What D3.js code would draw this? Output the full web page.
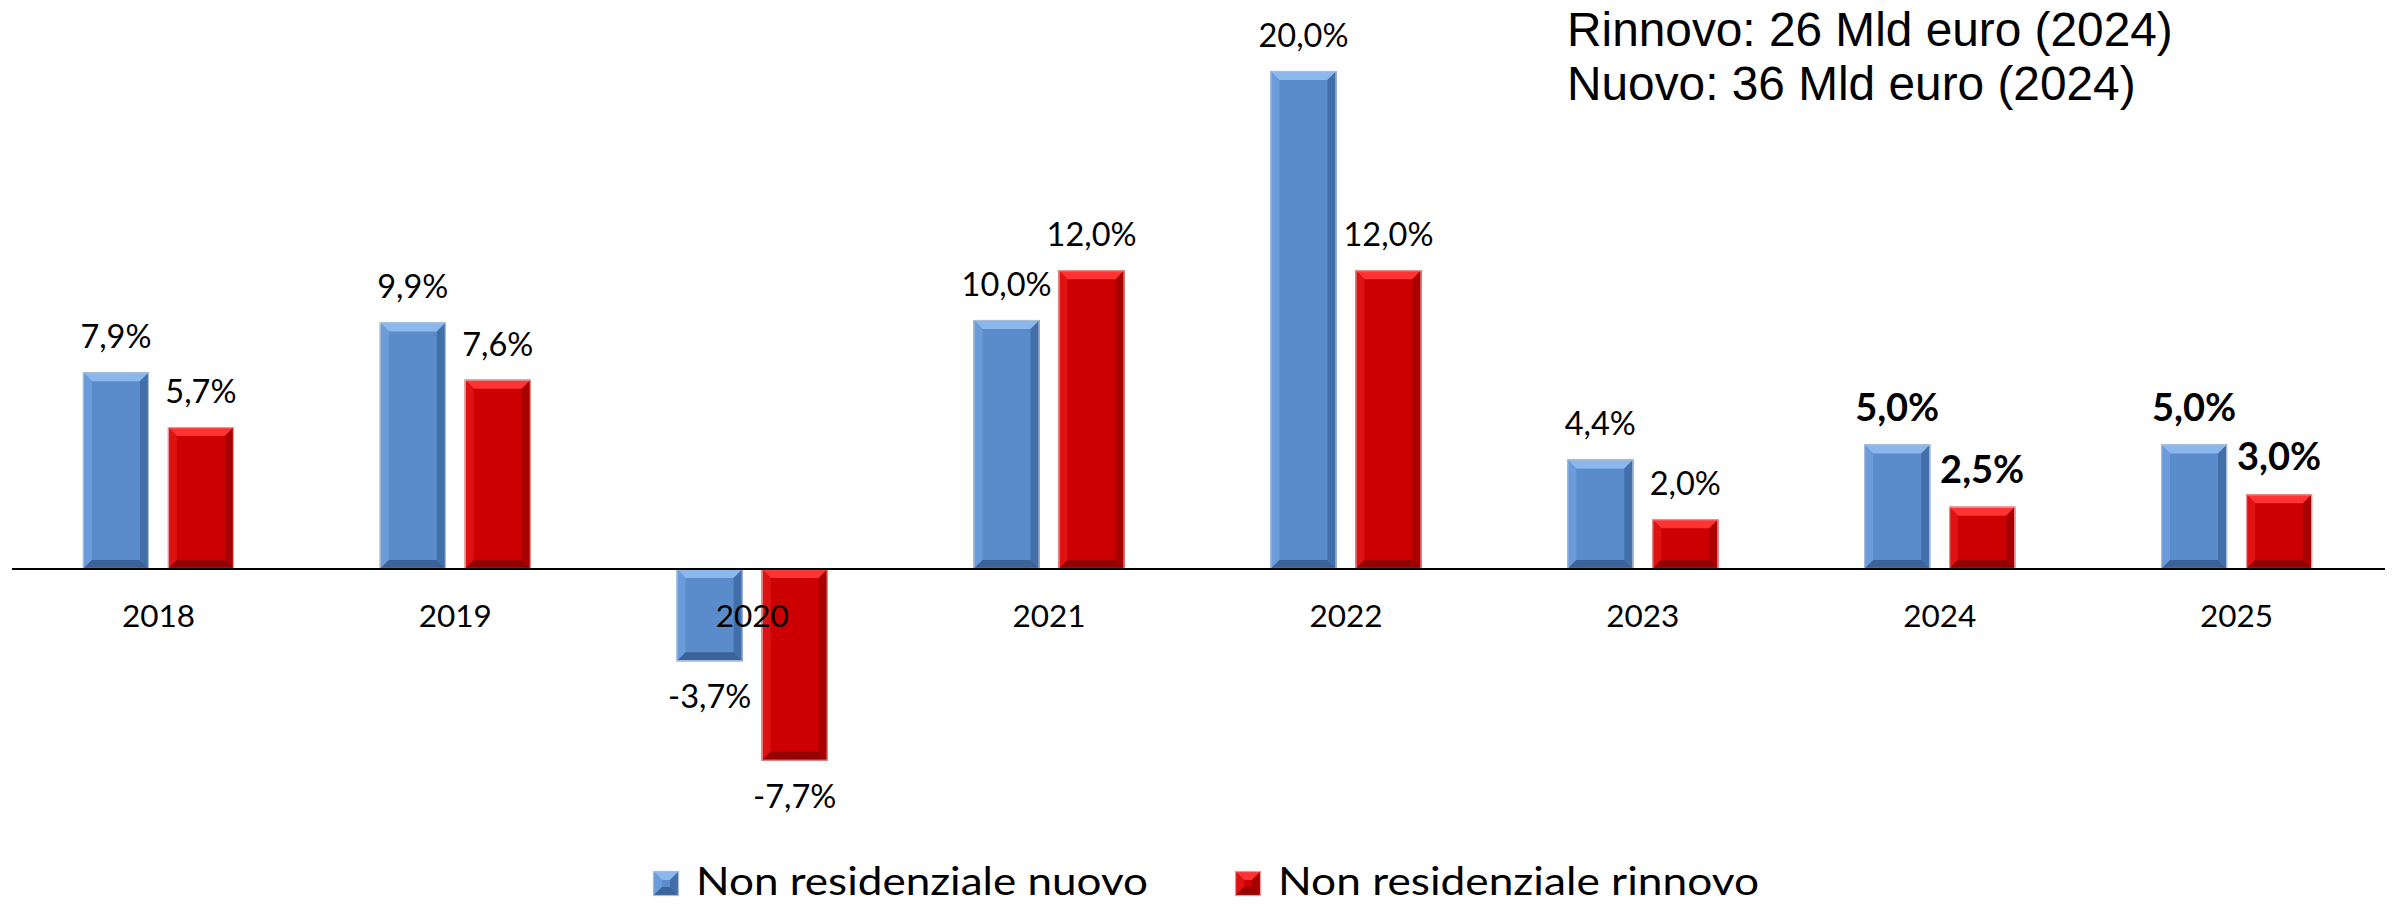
<!DOCTYPE html>
<html>
  <head>
    <meta charset="utf-8">
    <title>Non residenziale</title>
    <style>
      html, body { margin: 0; padding: 0; background: #fff; }
      svg { display: block; }
    </style>
  </head>
  <body>
    <script src="https://cdn.jsdelivr.net/npm/d3@7/dist/d3.min.js"></script>
    <script type="text/javascript">
      var years = ['2018', '2019', '2020', '2021', '2022', '2023', '2024', '2025'];
      var nuovo = [7.9, 9.9, -3.7, 10.0, 20.0, 4.4, 5.0, 5.0];
      var rinnovo = [5.7, 7.6, -7.7, 12.0, 12.0, 2.0, 2.5, 3.0];
      var boldYears = ['2024', '2025'];
      var seriesNames = ['Non residenziale nuovo', 'Non residenziale rinnovo'];
      var notes = ['Rinnovo: 26 Mld euro (2024)', 'Nuovo: 36 Mld euro (2024)'];

      var w = 2392;
      var h = 904;

      // colori del bevel: faccia, alto, sinistra, destra, basso, bordo
      var palette = [
        { face: '#5a8bcb', top: '#8cb7ec', left: '#6b9bd8', right: '#426fa9', bottom: '#3b6399', stroke: '#a9bcd6' },
        { face: '#cc0000', top: '#ff3333', left: '#de1212', right: '#a80000', bottom: '#950000', stroke: '#e49a9a' }
      ];

      var it = d3.formatLocale({ decimal: ',', thousands: '.', grouping: [3], currency: ['', ' €'], minus: '-' });
      var fmt = it.format('.1f');

      var svg = d3.select('body').append('svg').attr('width', w).attr('height', h);

      var x0 = d3.scaleBand().domain(years).range([10, 2385]);
      var x1 = d3.scaleBand().domain([0, 1]).range([-75.5, 75.5]).paddingInner(0.2235);
      var y = d3.scaleLinear().domain([0, 20]).range([569, 71]);

      var rows = years.map(function(yr, i) {
        return { year: yr, values: [nuovo[i], rinnovo[i]] };
      });

      function bevelBar(g, bx, by, bw, bh, c) {
        var b = Math.min(9, bh / 2, bw / 2);
        var L = bx, R = bx + bw, T = by, B = by + bh;
        var pts = function(a) { return a.map(function(p) { return p.join(','); }).join(' '); };
        g.append('rect').attr('x', L).attr('y', T).attr('width', bw).attr('height', bh).attr('fill', c.face);
        g.append('polygon').attr('points', pts([[L, T], [R, T], [R - b, T + b], [L + b, T + b]])).attr('fill', c.top);
        g.append('polygon').attr('points', pts([[L, T], [L + b, T + b], [L + b, B - b], [L, B]])).attr('fill', c.left);
        g.append('polygon').attr('points', pts([[R, T], [R, B], [R - b, B - b], [R - b, T + b]])).attr('fill', c.right);
        g.append('polygon').attr('points', pts([[L, B], [L + b, B - b], [R - b, B - b], [R, B]])).attr('fill', c.bottom);
        g.append('rect').attr('x', L + 0.5).attr('y', T + 0.5).attr('width', bw - 1).attr('height', bh - 1)
          .attr('fill', 'none').attr('stroke', c.stroke).attr('stroke-width', 1.2);
      }

      var groups = svg.selectAll('g.year')
        .data(rows)
        .enter()
        .append('g')
        .attr('class', 'year')
        .attr('transform', function(d) { return 'translate(' + (x0(d.year) + x0.bandwidth() / 2) + ',0)'; });

      groups.each(function(d) {
        var g = d3.select(this);
        d.values.forEach(function(v, s) {
          var top = Math.min(y(v), y(0));
          var hh = Math.abs(y(v) - y(0));
          bevelBar(g, x1(s), top, x1.bandwidth(), hh, palette[s]);
        });
      });

      // linea dello zero
      svg.append('line')
        .attr('x1', 12).attr('x2', 2385)
        .attr('y1', y(0)).attr('y2', y(0))
        .attr('stroke', '#000').attr('stroke-width', 2.2);

      // etichette valori
      groups.each(function(d) {
        var g = d3.select(this);
        var bold = boldYears.indexOf(d.year) >= 0;
        d.values.forEach(function(v, s) {
          g.append('text')
            .text(fmt(v) + '%')
            .attr('x', x1(s) + x1.bandwidth() / 2)
            .attr('y', v >= 0 ? y(v) - 24 : y(v) + 47)
            .attr('text-anchor', 'middle')
            .attr('font-family', 'Lato, sans-serif')
            .attr('font-size', bold ? '38px' : '32.5px')
            .attr('font-weight', bold ? 'bold' : 'normal')
            .attr('fill', '#000');
        });
      });

      // etichette anni
      groups.append('text')
        .text(function(d) { return d.year; })
        .attr('x', 0)
        .attr('y', 627)
        .attr('text-anchor', 'middle')
        .attr('font-family', 'Lato, sans-serif')
        .attr('font-size', '31.5px')
        .attr('fill', '#000');

      // note in alto a destra
      svg.selectAll('text.note')
        .data(notes)
        .enter()
        .append('text')
        .attr('class', 'note')
        .text(function(d) { return d; })
        .attr('x', 1567)
        .attr('y', function(d, i) { return 46 + i * 54; })
        .attr('font-family', '"Liberation Sans", Arial, sans-serif')
        .attr('font-size', '47.8px')
        .attr('fill', '#000');

      // legenda
      var legendX = [653, 1235];
      var legendLen = [452, 481];
      var legend = svg.selectAll('g.legend')
        .data(seriesNames)
        .enter()
        .append('g')
        .attr('class', 'legend')
        .attr('transform', function(d, i) { return 'translate(' + legendX[i] + ',871)'; });

      legend.each(function(d, i) {
        var g = d3.select(this);
        bevelBar(g, 0, 0, 26, 25, palette[i]);
        g.append('text')
          .text(d)
          .attr('x', 43)
          .attr('y', 24)
          .attr('textLength', legendLen[i])
          .attr('lengthAdjust', 'spacingAndGlyphs')
          .attr('font-family', 'Lato, sans-serif')
          .attr('font-size', '38px')
          .attr('fill', '#000');
      });
    </script>
  </body>
</html>
